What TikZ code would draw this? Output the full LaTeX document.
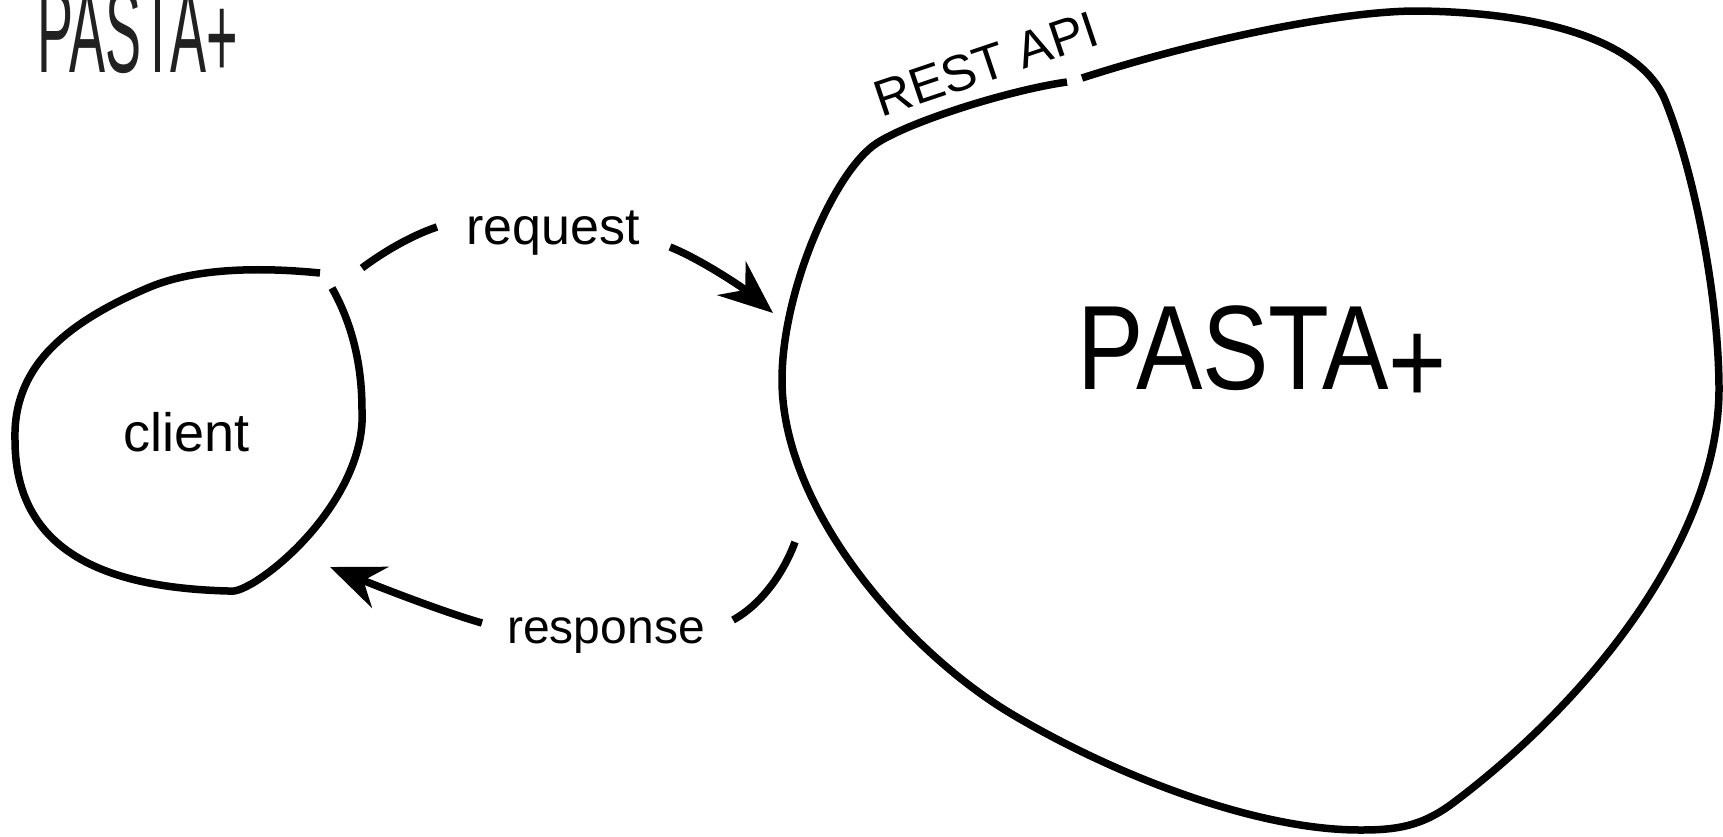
\documentclass[tikz,border=0pt]{standalone}
\usepackage{fontspec}
\setmainfont{Liberation Sans}
\usepackage{graphicx}
\usetikzlibrary{arrows.meta}
\begin{document}
\begin{tikzpicture}[x=1pt,y=-1pt,
  stroke/.style={line width=7.5pt, line join=round},
  lbl/.style={inner sep=0pt},
  arr/.style={-{Stealth[length=54pt,width=44pt,inset=18pt]}}]
\useasboundingbox[fill=white] (0,0) rectangle (1723,836);

% title
\node[inner sep=0pt, text=black!87, font=\fontsize{120}{140}\selectfont] (title) at (138,34) {\scalebox{0.45}[1]{PASTA\raisebox{-6pt}{+}}};

% client blob
\draw[stroke] (332,288) .. controls (350,320) and (362,360) .. (362,410)
  .. controls (366,480) and (302,553) .. (253,583)
  .. controls (242,589) and (236,592) .. (228,591)
  .. controls (120,588) and (15,560) .. (15,440)
  .. controls (13,370) and (60,325) .. (150,287)
  .. controls (196,268) and (260,267) .. (320,273);
\node[lbl, font=\fontsize{54}{64}\selectfont] (client) at (187,432) {client};

% PASTA+ blob
\draw[stroke] (1082,78) .. controls (1200,40) and (1340,11) .. (1417,11)
  .. controls (1540,12) and (1640,40) .. (1665,100)
  .. controls (1695,174) and (1719,300) .. (1719,390)
  .. controls (1718,540) and (1590,700) .. (1453,803)
  .. controls (1421,827) and (1395,830) .. (1360,830)
  .. controls (1250,830) and (1105,770) .. (1010,713)
  .. controls (907,651) and (782,510) .. (782,380)
  .. controls (782,290) and (835,170) .. (877,143)
  .. controls (911,121) and (1010,90) .. (1067,82);
\node[inner sep=0pt, font=\fontsize{120}{140}\selectfont] (pasta) at (1262,355) {\scalebox{0.83}[1]{PASTA\raisebox{-14pt}{+}}};
\node[inner sep=0pt, rotate=18.6, font=\fontsize{51}{60}\selectfont] (rest) at (986,64) {REST API};

% request connector
\node[lbl, font=\fontsize{52}{62}\selectfont] (req) at (553,233) {request};
\coordinate (rqa) at (362,268);
\coordinate (rqb) at (437,227);
\coordinate (rqc) at (670,247);
\coordinate (rqd) at (773,313);
\draw[stroke] (rqa) .. controls (382,253) and (410,236) .. (rqb);
\draw[stroke, arr] (rqc) .. controls (700,259) and (742,287) .. (rqd);

% response connector
\node[lbl, font=\fontsize{48}{58}\selectfont] (resp) at (606,636) {response};
\coordinate (rsa) at (795,542);
\coordinate (rsb) at (733,620);
\coordinate (rsc) at (482,623);
\coordinate (rsd) at (330,567);
\draw[stroke] (rsa) .. controls (784,572) and (762,604) .. (rsb);
\draw[stroke, arr] (rsc) .. controls (440,611) and (372,584) .. (rsd);
\end{tikzpicture}
\end{document}
